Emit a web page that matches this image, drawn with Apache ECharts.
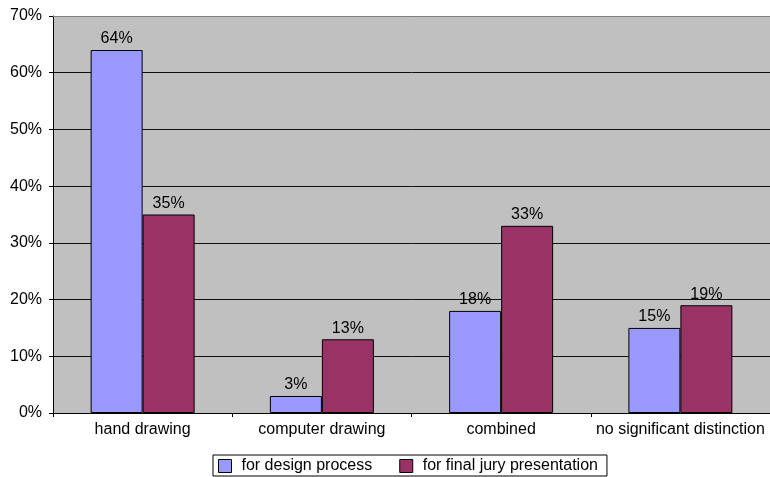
<!DOCTYPE html>
<html><head><meta charset="utf-8">
<script src="https://cdn.jsdelivr.net/npm/echarts@6/dist/echarts.min.js"></script>
<style>html,body{margin:0;padding:0;background:#fff}#c{width:770px;height:477px}</style>
</head><body><div id="c"></div>
<script>
const categories = ['hand drawing', 'computer drawing', 'combined', 'no significant distinction'];
const designProcess = [64, 3, 18, 15];
const finalJury = [35, 13, 33, 19];
const seriesNames = ['for design process', 'for final jury presentation'];

const chart = echarts.init(document.getElementById('c'), null, {renderer: 'canvas'});
const font = '"Liberation Sans", Arial, sans-serif';
const lbl = {show: true, position: 'top', formatter: '{c}%', color: '#000', fontFamily: font, fontSize: 16, distance: 3};
chart.setOption({
  animation: false,
  legend: {
    top: 455, left: 213,
    data: seriesNames,
    itemWidth: 13, itemHeight: 13, itemGap: 27,
    icon: 'rect',
    itemStyle: {borderColor: '#000', borderWidth: 1},
    borderColor: '#000', borderWidth: 1, padding: [3, 9, 2, 5],
    textStyle: {fontFamily: font, fontSize: 16, color: '#000', padding: [0, 0, 0, 5], lineHeight: 16}
  },
  grid: {left: 53, top: 16, width: 720, bottom: 64, show: true, backgroundColor: '#C0C0C0', borderWidth: 0},
  xAxis: {
    type: 'category', data: categories,
    axisLine: {lineStyle: {color: '#000', width: 1}},
    axisTick: {show: true, length: 4, interval: 0, lineStyle: {color: '#000'}},
    axisLabel: {interval: 0, hideOverlap: false, color: '#000', fontFamily: font, fontSize: 16, margin: 9}
  },
  yAxis: {
    type: 'value', min: 0, max: 70, interval: 10,
    axisLine: {show: true, lineStyle: {color: '#000'}},
    axisTick: {show: true, length: 4, lineStyle: {color: '#000'}},
    axisLabel: {formatter: '{value}%', color: '#000', fontFamily: font, fontSize: 16, margin: 11},
    splitLine: {lineStyle: {color: '#111', width: 1}}
  },
  series: [
    {name: seriesNames[0], type: 'bar', data: designProcess, barWidth: 52, barGap: '0%',
     itemStyle: {color: '#9999FF', borderColor: '#000', borderWidth: 1}, label: lbl},
    {name: seriesNames[1], type: 'bar', data: finalJury, barWidth: 52, barGap: '0%',
     itemStyle: {color: '#993366', borderColor: '#000', borderWidth: 1}, label: lbl},
    {type: 'line', data: [], markLine: {silent: true, symbol: 'none', label: {show: false},
      lineStyle: {color: '#808080', type: 'solid', width: 1}, data: [{yAxis: 70}]}}
  ]
});
</script></body></html>
